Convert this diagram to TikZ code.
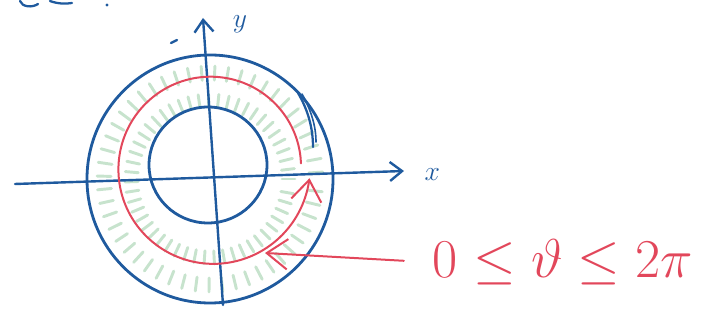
\documentclass[tikz,border=0pt]{standalone}
\usepackage{amsmath}
\usetikzlibrary{arrows.meta,positioning,calc}
\definecolor{PenBlue}{HTML}{1F5A9E}
\definecolor{PenRed}{HTML}{E2475B}
\definecolor{PenGreen}{HTML}{8FC79C}
\tikzset{
  axis/.style={draw=PenBlue, line width=1.8pt, line cap=round,
    -{Straight Barb[length=3.2mm, width=5mm, line width=1.8pt]}},
  ring/.style={draw=PenBlue, line width=2.1pt},
  sweep/.style={draw=PenRed, line width=1.5pt, line cap=round,
    -{Straight Barb[length=5.5mm, width=8mm, line width=1.5pt]}},
  hatch/.style={draw=PenGreen, line width=2.2pt, opacity=0.5, line cap=round},
  pen/.style={draw=PenBlue, line width=1.7pt, line cap=round},
  axisname/.style={text=PenBlue, font=\huge},
  tag/.style={text=PenRed, font=\Huge, scale=1.65}
}
\begin{document}
\begin{tikzpicture}[x=0.75pt, y=0.75pt]
  \useasboundingbox (0,0) rectangle (708,320);
  % centres of the rings
  \coordinate (O) at (210,141);
  \coordinate (I) at (208,155);
  \coordinate (S) at (212,152);
  % shaded annulus
  \foreach \a in {0,7,...,353}{
    \draw[hatch] ($(O)+(\a:72)$) -- ($(O)+(\a:85)$);
    \draw[hatch] ($(O)+(\a+3.5:99)$) -- ($(O)+(\a+3.5:113)$);
  }
  % rings
  \draw[ring] (O) ellipse [x radius=123, y radius=124];
  \draw[ring] (I) ellipse [x radius=59, y radius=58];
  \draw[pen] (298,227) .. controls (308,210) and (313,192) .. (313,173);
  \draw[pen, line width=1.2pt] (302,226) .. controls (311,210) and (316,194) .. (316,178);
  % axes
  \coordinate (xs) at (15,136);
  \coordinate (xe) at (404,149);
  \coordinate (ys) at (223,15);
  \coordinate (ye) at (203,302);
  \draw[axis] (xs) -- (xe);
  \draw[axis] (ys) -- (ye);
  \node[axisname, right=12pt of xe, yshift=-3pt] (xname) {$x$};
  \node[axisname] (yname) at (240,296) {$y$};
  % pen marks
  \draw[pen] (171,277) -- (177,280);
  \fill[PenBlue] (107,315) circle (1.6);
  \draw[pen] (20,319) .. controls (22,313) and (32,312) .. (38,316);
  \draw[pen] (50,319) .. controls (58,316) and (66,316) .. (72,317);
  % angle sweep
  \draw[sweep] plot[smooth, domain=3:354, samples=90]
    ({212+(89+9*\x/354)*cos(\x)}, {152+(89+9*\x/354)*sin(\x)});
  \node[tag] (range) at (563,58) {$0 \leq \vartheta \leq 2\pi$};
  \coordinate (hit) at (265,67);
  \draw[sweep, shorten <=16pt] (range.west) -- (hit);
\end{tikzpicture}
\end{document}
